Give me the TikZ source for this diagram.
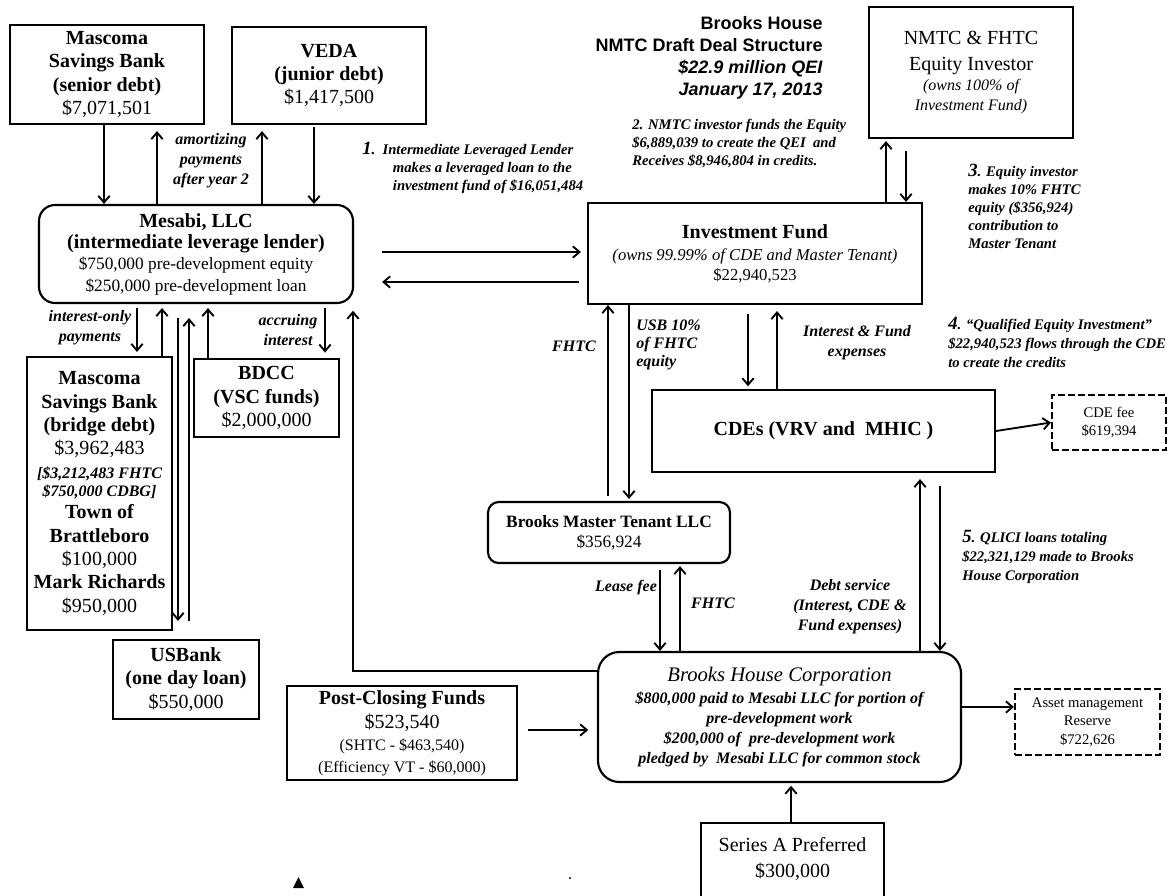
\documentclass[tikz,border=0pt]{standalone}
\usepackage{fontspec}
\setmainfont{Liberation Serif}
\setsansfont{Liberation Sans}
\usetikzlibrary{arrows.meta}

\newcommand{\szbig}{\fontsize{15}{17.5}\selectfont}
\newcommand{\szmid}{\fontsize{13}{16}\selectfont}
\newcommand{\szlbl}{\fontsize{12}{15}\selectfont}
\newcommand{\sznote}{\fontsize{11}{13.5}\selectfont}
\newcommand{\numfont}{\fontsize{14}{14}\selectfont}

\begin{document}
\begin{tikzpicture}[
    x=0.75pt, y=-0.75pt,
    box/.style={draw, line width=1.6pt, align=center, inner sep=0pt},
    rbox/.style={box, rounded corners=12pt},
    dbox/.style={draw, line width=1.5pt, dash pattern=on 5pt off 2.5pt, align=center, inner sep=0pt},
    flow/.style={-{Straight Barb[length=5pt, width=8.5pt]}, line width=1.4pt},
    lbl/.style={font=\szlbl\bfseries\itshape, align=center, inner sep=0pt},
    note/.style={font=\sznote\bfseries\itshape, align=left, inner sep=0pt, anchor=west}
]
\useasboundingbox (0,0) rectangle (1173,895);

% lenders
\node[box, minimum width=145.5pt, minimum height=74.25pt, font=\szbig\bfseries] (senior) at (107,74.5)
    {Mascoma\\Savings Bank\\(senior debt)\\{\mdseries\$7,071,501}};
\node[box, minimum width=145.5pt, minimum height=72.75pt, font=\szbig\bfseries] (veda) at (329,75.5)
    {VEDA\\(junior debt)\\{\mdseries\$1,417,500}};
\node[rbox, minimum width=235.5pt, minimum height=73.5pt, font=\szbig\bfseries] (mesabi) at (196,254)
    {Mesabi, LLC\\[-1.5pt](intermediate leverage lender)\\[-1.5pt]
     {\mdseries\szmid \$750,000 pre-development equity}\\[-1.5pt]
     {\mdseries\szmid \$250,000 pre-development loan}};
\node[box, minimum width=108.75pt, minimum height=204.75pt, font=\szbig\bfseries] (bridge) at (99.5,493.5)
    {Mascoma\\Savings Bank\\(bridge debt)\\{\mdseries\$3,962,483}\\
     {\itshape\fontsize{12}{14}\selectfont [\$3,212,483 FHTC}\\[-3.5pt]
     {\itshape\fontsize{12}{14}\selectfont \$750,000 CDBG]}\\[-1pt]
     Town of\\Brattleboro\\{\mdseries\$100,000}\\Mark Richards\\{\mdseries\$950,000}};
\node[box, minimum width=108.75pt, minimum height=58.5pt, font=\szbig\bfseries] (bdcc) at (266.5,398)
    {BDCC\\(VSC funds)\\{\mdseries\$2,000,000}};
\node[box, minimum width=109.5pt, minimum height=59.25pt, font=\szbig\bfseries] (usbank) at (186,679.5)
    {USBank\\(one day loan)\\{\mdseries\$550,000}};
\node[box, minimum width=172.5pt, minimum height=70.5pt, font=\szbig] (postclose) at (402,733)
    {\textbf{Post-Closing Funds}\\[1pt]\$523,540\\[-1.5pt]
     {\fontsize{12}{14}\selectfont (SHTC - \$463,540)}\\[-1pt]
     {\fontsize{12}{14}\selectfont (Efficiency VT - \$60,000)}};

% fund side
\node[font=\sffamily\bfseries\fontsize{13.5}{16.5}\selectfont, align=right, anchor=east, inner sep=0pt] (title) at (823,57.5)
    {Brooks House\\NMTC Draft Deal Structure\\\textit{\$22.9 million QEI}\\\textit{January 17, 2013}};
\node[box, minimum width=153pt, minimum height=98.25pt, font=\szbig] (investor) at (971,72.5)
    {NMTC \& FHTC\\[2pt]Equity Investor\\[-2.5pt]
     {\itshape\fontsize{12}{14}\selectfont (owns 100\% of}\\[-3pt]
     {\itshape\fontsize{12}{14}\selectfont Investment Fund)}};
\node[box, minimum width=250.5pt, minimum height=75.75pt, font=\szbig] (fund) at (755,253.5)
    {\textbf{Investment Fund}\\[-1pt]
     {\itshape\fontsize{12.5}{15}\selectfont (owns 99.99\% of CDE and Master Tenant)}\\[-2.5pt]
     {\fontsize{12.5}{15}\selectfont \$22,940,523}};
\node[box, minimum width=257.25pt, minimum height=61.5pt, font=\szbig\bfseries] (cde) at (823.5,431) {CDEs (VRV and~~MHIC~)};
\node[dbox, minimum width=85.5pt, minimum height=41.25pt, font=\fontsize{11}{13.5}\selectfont] (cdefee) at (1109,422.5) {CDE fee\\\$619,394};
\node[rbox, rounded corners=8pt, minimum width=181.5pt, minimum height=45.75pt, font=\fontsize{13}{15}\selectfont] (tenant) at (609,532.5)
    {\textbf{Brooks Master Tenant LLC}\\\$356,924};
\node[rbox, rounded corners=16pt, minimum width=272.25pt, minimum height=97.5pt, font=\fontsize{12}{15}\selectfont\bfseries\itshape] (brooks) at (779.5,717)
    {{\mdseries\fontsize{15.5}{18}\selectfont Brooks House Corporation}\\[1.5pt]
     \$800,000 paid to Mesabi LLC for portion of\\pre-development work\\
     \$200,000 of~ pre-development work\\pledged by~ Mesabi LLC for common stock};
\node[dbox, minimum width=108.75pt, minimum height=49.5pt, font=\fontsize{11}{14}\selectfont] (asset) at (1087.5,722)
    {Asset management\\Reserve\\\$722,626};
\node[minimum width=137.25pt, minimum height=54pt, align=center, inner sep=0pt, font=\szbig] (seriesA) at (792.5,859)
    {Series A Preferred\\[1.5pt]\$300,000};
\draw[line width=1.6pt] ([yshift=-15pt]seriesA.south west) -- (seriesA.north west)
    -- (seriesA.north east) -- ([yshift=-15pt]seriesA.south east);

% notes
\node[note] (note1) at (362,167.5) {{\numfont 1}.~~Intermediate Leveraged Lender\\
    \hspace*{23pt}makes a leveraged loan to the\\\hspace*{23pt}investment fund of \$16,051,484};
\node[note] (note2) at (632,143) {2. NMTC investor funds the Equity\\
    \$6,889,039 to create the QEI~ and\\Receives \$8,946,804 in credits.};
\node[note] (note3) at (968,206) {{\numfont 3}. Equity investor\\makes 10\% FHTC\\
    equity (\$356,924)\\contribution to\\Master Tenant};
\node[note] (note4) at (948,342.5) {{\numfont 4}. ``Qualified Equity Investment''\\[1pt]
    \$22,940,523 flows through the CDE\\[1pt]to create the credits};
\node[note] (note5) at (962,557) {{\numfont 5}. QLICI loans totaling\\[1pt]
    \$22,321,129 made to Brooks\\[1pt]House Corporation};

% arrow labels
\node[lbl] (amort) at (211,161) {amortizing\\payments\\after year 2};
\node[lbl] (intonly) at (90,328) {interest-only\\payments};
\node[lbl] (accrue) at (288,330) {accruing\\interest};
\node[lbl] (fhtcup) at (574,346) {FHTC};
\node[lbl, align=left, anchor=west] (usb) at (636,345) {USB 10\%\\[-1.5pt]of FHTC\\[-1.5pt]equity};
\node[lbl] (intfund) at (857,343) {Interest \& Fund\\expenses};
\node[lbl] (lease) at (626,588) {Lease fee};
\node[lbl] (fhtcdown) at (713,603) {FHTC};
\node[lbl] (debt) at (850,607) {Debt service\\(Interest, CDE \&\\Fund expenses)};

% flows
\draw[flow] (104,0 |- senior.south) -- (104,0 |- mesabi.north);
\draw[flow, shorten >=4.5pt] (157,0 |- mesabi.north) -- (157,0 |- senior.south);
\draw[flow, shorten >=4.5pt] (262,0 |- mesabi.north) -- (262,0 |- veda.south);
\draw[flow, shorten <=1.5pt] (314,0 |- veda.south) -- (314,0 |- mesabi.north);
\draw[flow, shorten <=21pt, shorten >=4.5pt] (mesabi.east |- 0,252) -- (fund.west |- 0,252);
\draw[flow, shorten <=6pt, shorten >=21pt] (fund.west |- 0,282) -- (mesabi.east |- 0,282);
\draw[flow, shorten >=1.5pt] (886,0 |- fund.north) -- (886,0 |- investor.south);
\draw[flow, shorten <=9pt] (906,0 |- investor.south) -- (906,0 |- fund.north);
\draw[flow, shorten <=7pt, shorten >=2pt] (748,0 |- fund.south) -- (748,0 |- cde.north);
\draw[flow, shorten >=4.5pt] (777,0 |- cde.north) -- (777,0 |- fund.south);
\draw[flow] (cde.east) -- (cdefee.west);
\draw[flow, shorten <=4pt] (608,0 |- tenant.north) -- (608,0 |- fund.south);
\draw[flow, shorten >=1.5pt] (629,0 |- fund.south) -- (629,0 |- tenant.north);
\draw[flow, shorten <=4.5pt] (660,0 |- tenant.south) -- (660,0 |- brooks.north);
\draw[flow, shorten >=1.5pt] (680,0 |- brooks.north) -- (680,0 |- tenant.south);
\draw[flow, shorten >=4.5pt] (920,0 |- brooks.north) -- (920,0 |- cde.south);
\draw[flow, shorten <=9.5pt] (940,0 |- cde.south) -- (940,0 |- brooks.north);
\draw[flow, shorten <=7.5pt, shorten >=6.5pt] (postclose.east |- 0,730) -- (brooks.west |- 0,730);
\draw[flow] (brooks.east |- 0,707) -- (asset.west |- 0,707);
\draw[flow, shorten >=2pt] (791,0 |- seriesA.north) -- (791,0 |- brooks.south);
\draw[flow, shorten >=5pt] (brooks.west |- 0,671) -| (353,0 |- mesabi.south);
\draw[flow, shorten <=3pt, shorten >=3pt] (137,0 |- mesabi.south) -- (137,0 |- bridge.north);
\draw[flow, shorten >=3pt] (162,0 |- bridge.north) -- (162,0 |- mesabi.south);
\draw[flow, shorten <=10.5pt, shorten >=13.5pt] (178,0 |- mesabi.south) -- (178,0 |- usbank.north);
\draw[flow, shorten <=13.5pt, shorten >=10.5pt] (189,0 |- usbank.north) -- (189,0 |- mesabi.south);
\draw[flow, shorten >=3pt] (208,0 |- bdcc.north) -- (208,0 |- mesabi.south);
\draw[flow, shorten <=3pt, shorten >=4pt] (325,0 |- mesabi.south) -- (325,0 |- bdcc.north);

% stray marks
\fill (293,888) -- (304,888) -- (298.5,877) -- cycle;
\fill (570,878) circle (1.2);
\end{tikzpicture}
\end{document}
